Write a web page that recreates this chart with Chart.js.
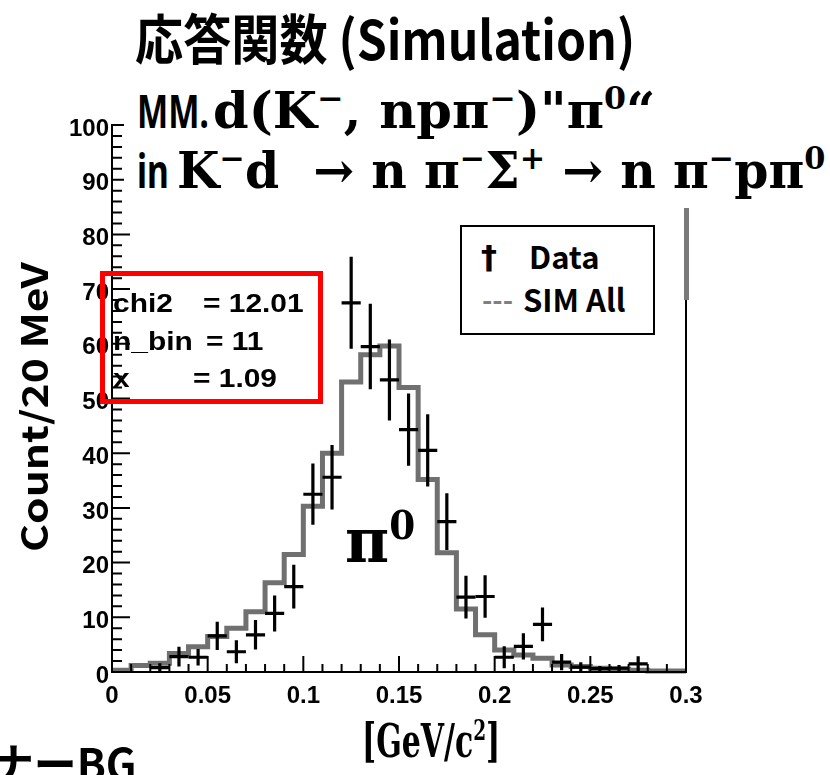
<!DOCTYPE html>
<html>
<head>
<meta charset="utf-8">
<script src="https://cdn.jsdelivr.net/npm/chart.js@4.4.0/dist/chart.umd.min.js"></script>
<style>
body{margin:0;background:#fff;}
#wrap{position:relative;width:830px;height:775px;overflow:hidden;background:#fff;}
#wrap canvas{position:absolute;left:0;top:0;}
.t{position:absolute;white-space:nowrap;transform-origin:0 0;color:#000;line-height:1;}
.jp{font-family:"Noto Sans CJK JP","Noto Sans",sans-serif;font-weight:700;}
.ns{font-family:"Noto Sans","Open Sans",sans-serif;font-weight:700;}
.mth{font-family:"DejaVu Serif",serif;font-weight:700;}
.hv{font-family:"Liberation Sans",Arial,sans-serif;font-weight:700;font-size:26px;transform:scaleX(1.15);}
sup{font-size:0.62em;vertical-align:0.6em;line-height:0;}
#head{position:absolute;left:124px;top:0;width:706px;height:208px;background:#fff;}
#stats{position:absolute;left:100px;top:271px;width:223px;height:133px;border:5px solid #ff0000;box-sizing:border-box;}
#legend{position:absolute;left:460px;top:225px;width:195px;height:110px;border:2px solid #000;box-sizing:border-box;background:#fff;}
#edge{position:absolute;left:684px;top:208px;width:5px;height:92px;background:#7a7a7a;}
</style>
</head>
<body>
<div id="wrap">
  <canvas id="c" width="830" height="775"></canvas>
  <div id="edge"></div>
  <div id="head"></div>
  <div class="t jp" id="l1" style="left:135px;top:10px;font-size:54px;">応答関数 (Simulation)</div>
  <div class="t ns" id="l2a" style="left:137px;top:87px;font-size:46px;">MM.</div>
  <div class="t mth" id="l2b" style="left:213px;top:86px;font-size:50px;">d(K<sup>−</sup>, npπ<sup>−</sup>)"π<sup>0</sup>“</div>
  <div class="t ns" id="l3a" style="left:137px;top:147px;font-size:46px;">in</div>
  <div class="t mth" id="l3b" style="left:177px;top:146px;font-size:50px;">K<sup>−</sup>d&nbsp; → n π<sup>−</sup>Σ<sup>+</sup> → n π<sup>−</sup>pπ<sup>0</sup></div>

  <div id="stats"></div>
  <div class="t hv" style="left:113px;top:290px;">chi2</div>
  <div class="t hv" style="left:203px;top:290px;">= 12.01</div>
  <div class="t hv" style="left:113px;top:328px;">n_bin</div>
  <div class="t hv" style="left:206px;top:328px;">= 11</div>
  <div class="t hv" style="left:113px;top:365px;">x</div>
  <div class="t hv" style="left:193px;top:365px;">= 1.09</div>

  <div id="legend"></div>
  <div class="t" style="left:481px;top:241px;font-size:32px;font-family:'DejaVu Sans';font-weight:700;">†</div>
  <div class="t jp" style="left:529px;top:240px;font-size:31px;">Data</div>
  <div class="t jp" style="left:482px;top:285px;font-size:28px;color:#808080;">---</div>
  <div class="t jp" style="left:523px;top:283px;font-size:31px;">SIM All</div>

  <div class="t jp" id="yt" style="left:14px;top:552px;font-size:36px;">Count/20 MeV</div>
  <div class="t mth" id="xt" style="left:362px;top:718px;font-size:46px;">[GeV/c<sup>2</sup>]</div>
  <div class="t mth" id="pi" style="left:345px;top:510px;font-size:62px;">π<sup>0</sup></div>
  <div class="t jp" id="bg" style="left:-9px;top:740px;font-size:44px;">ナーBG</div>
</div>
<script>
// measured points (bin centres, GeV/c^2)
const dataX = [0.025, 0.035, 0.045, 0.055, 0.065, 0.075, 0.085, 0.095, 0.105, 0.115,
               0.125, 0.135, 0.145, 0.155, 0.165, 0.175, 0.185, 0.195, 0.205, 0.215,
               0.225, 0.235, 0.245, 0.255, 0.265, 0.275];
const dataY = [0.8, 2.8, 2.7, 6.6, 3.7, 6.8, 10.7, 15.6, 32.5, 35.6,
               67.5, 59.5, 53.4, 44.3, 40.5, 27.5, 13.7, 13.8, 2.7, 4.7,
               8.7, 1.8, 0.9, 0.6, 0.7, 1.5];
const dataErr = [0.8, 1.8, 1.5, 2.6, 2.1, 2.7, 3.3, 4.0, 5.6, 5.9,
                 8.4, 7.8, 7.4, 6.6, 6.6, 5.2, 3.9, 3.9, 2.0, 2.4,
                 3.1, 1.5, 0.9, 0.5, 0.6, 1.4];
const halfBin = 0.005;

// simulated response, one value per 0.01 bin from 0 to 0.3
const simEdges = [0, 0.01, 0.02, 0.03, 0.04, 0.05, 0.06, 0.07, 0.08, 0.09, 0.1,
                  0.11, 0.12, 0.13, 0.14, 0.15, 0.16, 0.17, 0.18, 0.19, 0.2,
                  0.21, 0.22, 0.23, 0.24, 0.25, 0.26, 0.27, 0.28, 0.29, 0.3];
const simY = [0.3, 1.2, 1.6, 3.4, 4.6, 6.5, 8, 11, 16.3, 21.5,
              30.3, 40, 53, 58, 59.6, 52, 35.2, 21.8, 11.5, 6.8,
              4.0, 3.1, 2.5, 1.3, 1.0, 0.7, 0.5, 0.3, 0.2, 0.2];

const xTicks = [0, 0.05, 0.1, 0.15, 0.2, 0.25, 0.3];
const yTicks = [0, 10, 20, 30, 40, 50, 60, 70, 80, 90, 100];

const tickFont = {family: 'Liberation Sans', weight: 'bold', size: 24};

// error crosses for the data points
const errorBars = {
  id: 'errorBars',
  afterDatasetsDraw(chart) {
    const {ctx, scales: {x, y}} = chart;
    ctx.save();
    ctx.strokeStyle = '#000';
    ctx.lineWidth = 3.2;
    dataX.forEach((v, i) => {
      const px = x.getPixelForValue(v), py = y.getPixelForValue(dataY[i]);
      ctx.beginPath();
      ctx.moveTo(x.getPixelForValue(v - halfBin), py);
      ctx.lineTo(x.getPixelForValue(v + halfBin), py);
      ctx.moveTo(px, y.getPixelForValue(dataY[i] + dataErr[i]));
      ctx.lineTo(px, Math.min(y.getPixelForValue(dataY[i] - dataErr[i]), y.bottom));
      ctx.stroke();
    });
    ctx.restore();
  }
};

// ROOT style frame with inward ticks
const frame = {
  id: 'frame',
  afterDraw(chart) {
    const {ctx, chartArea: a, scales: {x, y}} = chart;
    ctx.save();
    ctx.strokeStyle = '#000';
    ctx.lineWidth = 2;
    ctx.strokeRect(a.left, a.top, a.right - a.left, a.bottom - a.top);
    ctx.beginPath();
    for (let k = 0; k <= 50; k++) {
      const py = y.getPixelForValue(k * 2);
      ctx.moveTo(a.left, py);
      ctx.lineTo(a.left + (k % 5 === 0 ? 18 : 10), py);
    }
    for (let k = 0; k <= 30; k++) {
      const px = x.getPixelForValue(k / 100);
      ctx.moveTo(px, a.bottom);
      ctx.lineTo(px, a.bottom - (k % 5 === 0 ? 16 : 8));
    }
    ctx.stroke();
    ctx.restore();
  }
};

new Chart(document.getElementById('c'), {
  data: {
    datasets: [{
      type: 'line',
      label: 'SIM All',
      data: simEdges.map((e, i) => ({x: e, y: simY[Math.min(i, simY.length - 1)]})),
      stepped: true,
      borderColor: '#707070',
      borderWidth: 5,
      pointRadius: 0,
      fill: false,
      clip: false
    }, {
      type: 'scatter',
      label: 'Data',
      data: dataX.map((v, i) => ({x: v, y: dataY[i]})),
      pointRadius: 0,
      showLine: false
    }]
  },
  options: {
    responsive: false,
    animation: false,
    devicePixelRatio: 1,
    layout: {padding: {top: 125, right: 144, left: 0, bottom: 0}},
    plugins: {legend: {display: false}, tooltip: {enabled: false}, title: {display: false}},
    scales: {
      x: {
        type: 'linear', min: 0, max: 0.3,
        grid: {display: false, drawTicks: false}, border: {display: false},
        afterBuildTicks: s => { s.ticks = xTicks.map(v => ({value: v})); },
        ticks: {
          color: '#000', font: tickFont, padding: 10, maxRotation: 0, autoSkip: false,
          callback: v => String(+v.toFixed(2))
        },
        afterFit: s => { s.height = 103; s.paddingLeft = 0; s.paddingRight = 0; }
      },
      y: {
        type: 'linear', min: 0, max: 100,
        grid: {display: false, drawTicks: false}, border: {display: false},
        afterBuildTicks: s => { s.ticks = yTicks.map(v => ({value: v})); },
        ticks: {color: '#000', font: tickFont, padding: 3, labelOffset: 4},
        afterFit: s => { s.width = 112; s.paddingTop = 0; s.paddingBottom = 0; }
      }
    }
  },
  plugins: [errorBars, frame]
});

// stretch the text runs to their box widths
function fit(id, w, pre) {
  const el = document.getElementById(id);
  el.style.transform = (pre || '') + ' scaleX(' + (w / el.scrollWidth) + ')';
}
function fitAll() {
  fit('l1', 500);
  fit('l2a', 72);
  fit('l2b', 442);
  fit('l3a', 32);
  fit('l3b', 648);
  fit('yt', 290, 'rotate(-90deg)');
  fit('xt', 138);
  fit('pi', 70);
  fit('bg', 146);
}
fitAll();
document.fonts.ready.then(fitAll);
</script>
</body>
</html>
